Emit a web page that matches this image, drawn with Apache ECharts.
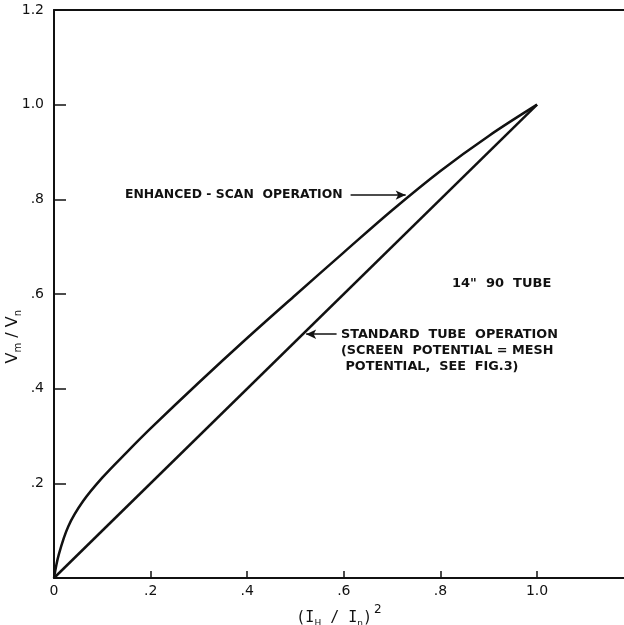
<!DOCTYPE html>
<html>
<head>
<meta charset="utf-8">
<script src="https://cdn.jsdelivr.net/npm/echarts@6/dist/echarts.min.js"></script>
<style>
  html, body { margin: 0; padding: 0; background: #fff; }
  #chart { width: 624px; height: 625px; }
</style>
</head>
<body>
<div id="chart"></div>
<script>
// curve: x = (IH/In)^2, y = Vm/Vn
const enhancedX = [0, 0.01, 0.03, 0.06, 0.1, 0.15, 0.2, 0.3, 0.4, 0.5, 0.6, 0.7, 0.8, 0.9, 1.0];
const enhancedY = [0, 0.05, 0.11, 0.162, 0.212, 0.265, 0.316, 0.413, 0.507, 0.598, 0.688, 0.777, 0.86, 0.934, 1.0];
const standardX = [0, 1.0];
const standardY = [0, 1.0];
const tickLabels = { 0: '0', 0.2: '.2', 0.4: '.4', 0.6: '.6', 0.8: '.8', 1: '1.0', 1.2: '1.2' };

const font = 'DejaVu Sans';
const ink = '#111';

function pairs(xs, ys) {
    return xs.map((x, i) => [x, ys[i]]);
}

function fmt(v) {
    const k = Math.round(v * 10) / 10;
    return tickLabels[k] !== undefined && Math.abs(k - v) < 1e-6 ? tickLabels[k] : '';
}

const chartDom = document.getElementById('chart');
const myChart = echarts.init(chartDom);

const option = {
    backgroundColor: '#fff',
    animation: false,
    grid: { left: 54, right: 0, top: 10, bottom: 47, outerBoundsMode: 'none', containLabel: false },
    xAxis: [{
        type: 'value',
        min: 0,
        max: 1.18,
        interval: 0.2,
        splitLine: { show: false },
        axisLine: { lineStyle: { color: ink, width: 2 } },
        axisTick: { inside: true, length: 7, lineStyle: { color: ink, width: 1.5 } },
        axisLabel: { formatter: fmt, color: ink, fontFamily: font, fontSize: 14, margin: 6, showMaxLabel: false },
        name: '{p|(I}{s|H}{p| / I}{s|n}{p|)}{sup|2}',
        nameLocation: 'middle',
        nameGap: 26,
        nameTextStyle: {
            rich: {
                p: { fontFamily: 'DejaVu Sans Mono', fontSize: 15, color: ink },
                s: { fontFamily: font, fontSize: 9, color: ink, padding: [12, 0, 0, 0] },
                sup: { fontFamily: font, fontSize: 12, color: ink, padding: [0, 0, 16, 2] }
            }
        }
    }, {
        type: 'value',
        position: 'top',
        min: 0,
        max: 1.18,
        splitLine: { show: false },
        axisLine: { lineStyle: { color: ink, width: 2 } },
        axisTick: { show: false },
        axisLabel: { show: false }
    }],
    yAxis: {
        type: 'value',
        min: 0,
        max: 1.2,
        interval: 0.2,
        splitLine: { show: false },
        axisLine: { lineStyle: { color: ink, width: 2 } },
        axisTick: { inside: true, length: 12, lineStyle: { color: ink, width: 1.5 } },
        axisLabel: {
            formatter: v => (v === 0 ? '' : fmt(v)),
            color: ink, fontFamily: font, fontSize: 14, margin: 10
        }
    },
    graphic: [
        {
            type: 'text', left: 5, top: 310, rotation: Math.PI / 2,
            style: {
                text: '{p|V}{s|m}{p| / V}{s|n}',
                rich: {
                    p: { fontFamily: font, fontSize: 16, fill: ink },
                    s: { fontFamily: font, fontSize: 10, fill: ink, padding: [10, 0, 0, 0] }
                }
            }
        },
        { type: 'text', left: 125, top: 189, style: { text: 'ENHANCED - SCAN  OPERATION', fontFamily: font, fontSize: 12.4, fontWeight: 'bold', fill: ink } },
        { type: 'text', left: 452, top: 277, style: { text: '14"  90  TUBE', fontFamily: font, fontSize: 13, fontWeight: 'bold', fill: ink } },
        {
            type: 'text', left: 341, top: 327,
            style: {
                text: 'STANDARD  TUBE  OPERATION\n(SCREEN  POTENTIAL = MESH\n POTENTIAL,  SEE  FIG.3)',
                fontFamily: font, fontSize: 12.8, fontWeight: 'bold', fill: ink, lineHeight: 16
            }
        }
    ],
    series: [
        {
            name: 'Enhanced-scan operation',
            type: 'line',
            data: pairs(enhancedX, enhancedY),
            smooth: 0.35,
            showSymbol: false,
            lineStyle: { color: ink, width: 2.5 },
            markLine: {
                silent: true,
                symbol: ['none', 'arrow'],
                symbolSize: [7, 10],
                label: { show: false },
                lineStyle: { color: ink, width: 1.5, type: 'solid' },
                data: [[{ coord: [0.614, 0.809] }, { coord: [0.728, 0.809] }]]
            }
        },
        {
            name: 'Standard tube operation',
            type: 'line',
            data: pairs(standardX, standardY),
            showSymbol: false,
            lineStyle: { color: ink, width: 2.5 },
            markLine: {
                silent: true,
                symbol: ['none', 'arrow'],
                symbolSize: [7, 10],
                label: { show: false },
                lineStyle: { color: ink, width: 1.5, type: 'solid' },
                data: [[{ coord: [0.585, 0.515] }, { coord: [0.522, 0.515] }]]
            }
        }
    ]
};

option && myChart.setOption(option);
</script>
</body>
</html>
